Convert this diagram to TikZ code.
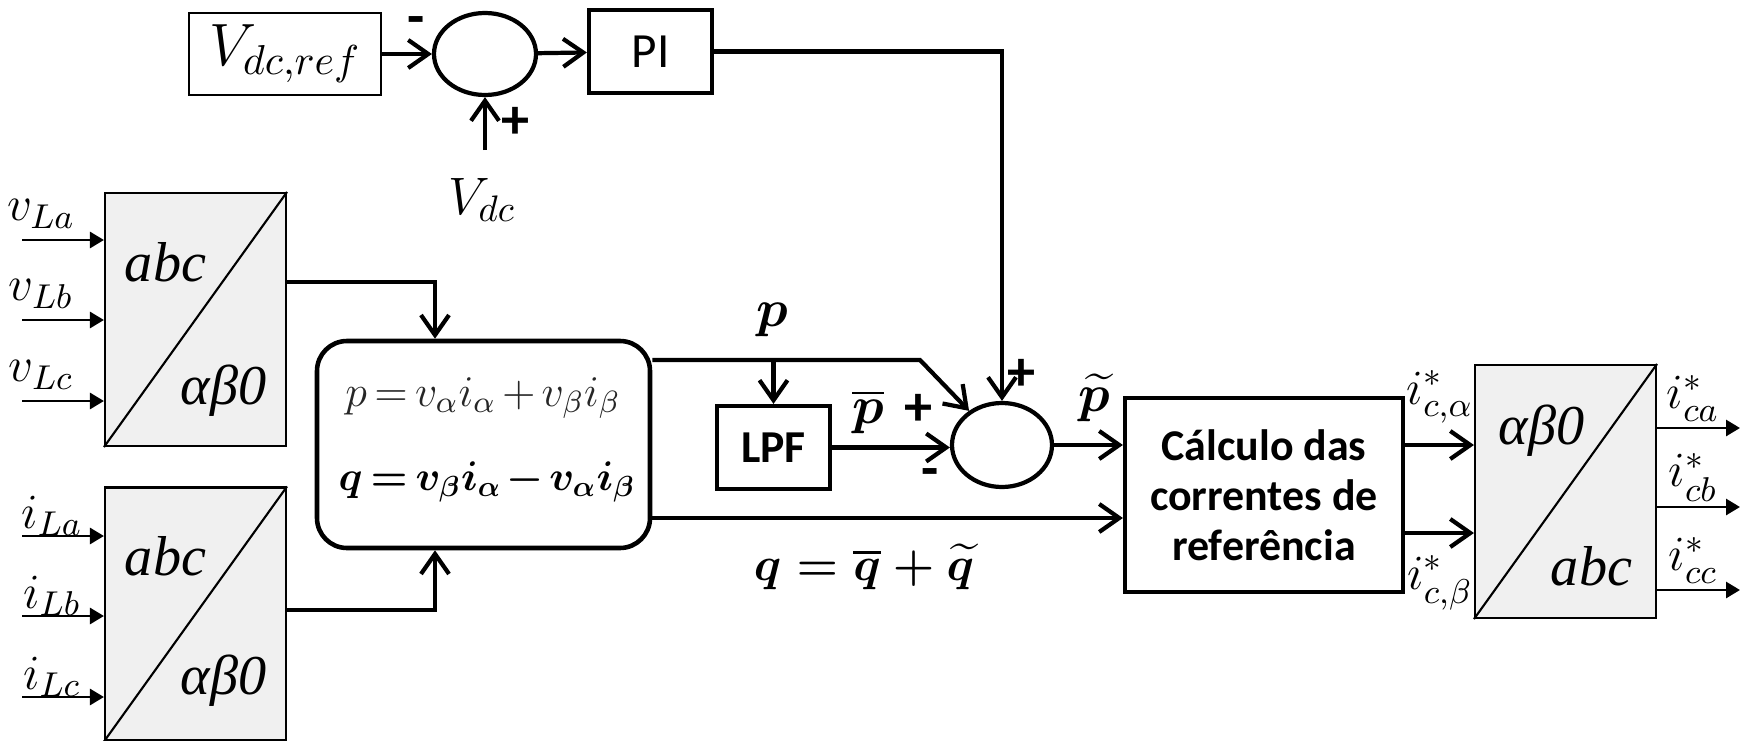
\RequirePackage{fix-cm}
\documentclass[tikz,border=0pt]{standalone}
\usepackage{amsmath}
\usepackage{fontspec}
\newfontfamily\calfont{Carlito}
\newfontfamily\tmsfont{Liberation Serif}
\usetikzlibrary{arrows.meta, positioning, shapes.geometric, calc}

\begin{document}
\begin{tikzpicture}[x=0.1mm, y=-0.1mm,
    sig/.style={line width=1.2pt, -{Straight Barb[length=2mm, width=2.8mm]}},
    inarr/.style={line width=0.8pt, -{Triangle[length=1.4mm, width=1.6mm]}},
    convbox/.style={draw, line width=0.6pt, fill=black!6, minimum width=18.1mm,
                    minimum height=25.3mm, inner sep=0pt},
    blk/.style={draw, line width=1.2pt, inner sep=0pt},
    sumnode/.style={draw, ellipse, line width=1.2pt, minimum width=10mm,
                    minimum height=8.3mm, inner sep=0pt},
    sgn/.style={font=\calfont\bfseries\fontsize{16}{16}\selectfont, inner sep=0pt},
    trf/.style={font=\tmsfont\itshape\fontsize{16}{16}\selectfont, inner sep=0pt},
    lbl/.style={font=\fontsize{14}{14}\selectfont, inner sep=0pt},
    bigl/.style={font=\fontsize{15}{15}\selectfont, inner sep=0pt}]
  \useasboundingbox (0,0) rectangle (1750,741);

  % dc-link loop
  \node[draw, line width=0.6pt, minimum width=19.2mm, minimum height=8.2mm,
        font=\fontsize{17}{17}\selectfont] (vref) at (285,54) {$V_{dc,ref}$};
  \node[sumnode, minimum width=10.2mm, minimum height=8.2mm] (sum1) at (485,54) {};
  \node[blk, minimum width=12.3mm, minimum height=8.3mm,
        font=\calfont\fontsize{14}{14}\selectfont] (pi) at (650.5,51.5) {PI};
  \node[bigl] (vdc) at (482,200) {$V_{dc}$};
  \coordinate (vdcin) at (485,150);
  \node[sgn] (m1) at (416,26) {-};
  \node[sgn] (p1) at (515,123) {+};
  \draw[sig] (vref) -- (sum1);
  \draw[sig] (sum1) -- (pi);
  \draw[sig] (vdcin) -- (sum1);

  % abc -> alpha beta 0
  \node[convbox] (b1) at (195.5,319.5) {};
  \draw[line width=0.6pt] (b1.south west) -- (b1.north east);
  \node[trf] (t1a) at ($(b1)+(-30,-57)$) {abc};
  \node[trf] (t1b) at ($(b1)+(28,71)$) {αβ0};
  \node[convbox] (b2) at (195.5,614) {};
  \draw[line width=0.6pt] (b2.south west) -- (b2.north east);
  \node[trf] (t2a) at ($(b2)+(-30,-58)$) {abc};
  \node[trf] (t2b) at ($(b2)+(28,67)$) {αβ0};
  \foreach \n/\yy in {a/240, b/320, c/401} {
    \coordinate (v\n) at (22,\yy);
    \draw[inarr] (v\n) -- (v\n -| b1.west);
    \node[lbl] (lv\n) at (41,\yy-26) {$v_{L\n}$};
  }
  \foreach \n/\yy in {a/536, b/616, c/697} {
    \coordinate (i\n) at (22,\yy);
    \draw[inarr] (i\n) -- (i\n -| b2.west);
    \node[lbl] (li\n) at (52,\yy-20) {$i_{L\n}$};
  }

  % instantaneous powers
  \node[draw, line width=1.3pt, rounded corners=3mm, minimum width=33.3mm,
        minimum height=20.7mm] (pq) at (483.5,444.5) {};
  \node[font=\fontsize{12.5}{12.5}\selectfont, text=black!85] (peq) at (483,398)
    {$\thickmuskip=3mu \medmuskip=2.5mu p = v_\alpha i_\alpha + v_\beta i_\beta$};
  \node[font=\fontsize{11.8}{11.8}\selectfont] (qeq) at (487,482)
    {$\thickmuskip=3mu \medmuskip=2mu \boldsymbol{q = v_\beta i_\alpha - v_\alpha i_\beta}$};
  \coordinate (yv) at (0,282);
  \coordinate (yi) at (0,610);
  \draw[sig] (b1.east |- yv) -| ([xshift=-4.85mm]pq.north);
  \draw[sig] (b2.east |- yi) -| ([xshift=-4.85mm]pq.south);

  % p filtering
  \node[blk, minimum width=11.3mm, minimum height=8.3mm,
        font=\calfont\bfseries\fontsize{13}{13}\selectfont] (lpf) at (773.5,447.5) {LPF};
  \node[sumnode, minimum height=8.4mm] (sum2) at (1002,445) {};
  \coordinate (pk) at (920,360);
  \coordinate (yq) at (0,518);
  \draw[sig] (pq.east |- pk) -- (pk) -- (sum2);
  \draw[sig] (lpf.north |- pk) -- (lpf.north);
  \draw[sig] (lpf.east) -- (lpf.east -| sum2.west);
  \draw[sig] (pi.east) -| (sum2.north);
  \node[bigl] (lp) at (772,320) {$\boldsymbol{p}$};
  \node[bigl] (lpbar) at (868,412) {$\boldsymbol{\overline{p}}$};
  \node[bigl] (lptil) at (1094,398) {$\boldsymbol{\widetilde{p}}$};
  \node[sgn] (p2) at (918,410) {+};
  \node[sgn] (m2) at (930,478) {-};
  \node[sgn] (p3) at (1021,375) {+};
  \node[font=\fontsize{13.5}{13.5}\selectfont] (lq) at (864,567)
    {$\boldsymbol{q = \overline{q} + \widetilde{q}}$};

  % reference currents
  \node[blk, minimum width=27.8mm, minimum height=19.4mm, align=center,
        font=\calfont\bfseries\fontsize{12.5}{14.2}\selectfont] (calc) at (1264,495)
    {Cálculo das\\correntes de\\referência};
  \draw[sig] (sum2.east) -- (sum2.east -| calc.west);
  \draw[sig] (pq.east |- yq) -- (calc.west |- yq);

  % alpha beta 0 -> abc
  \node[convbox] (b3) at (1565.5,491.5) {};
  \draw[line width=0.6pt] (b3.south west) -- (b3.north east);
  \node[trf] (t3a) at ($(b3)+(-24,-61)$) {αβ0};
  \node[trf] (t3b) at ($(b3)+(26,75)$) {abc};
  \coordinate (ya) at (0,445);
  \coordinate (yb) at (0,533);
  \draw[sig] (calc.east |- ya) -- (b3.west |- ya);
  \draw[sig] (calc.east |- yb) -- (b3.west |- yb);
  \node[lbl] (lia) at (1440,397) {$i^*_{c,\alpha}$};
  \node[lbl] (lib) at (1440,583) {$i^*_{c,\beta}$};
  \foreach \n/\yy in {a/428, b/507, c/590} {
    \coordinate (o\n) at (1740,\yy);
    \draw[inarr] (o\n -| b3.east) -- (o\n);
    \node[lbl] (lo\n) at (1693,\yy-30) {$i^*_{c\n}$};
  }
\end{tikzpicture}
\end{document}
